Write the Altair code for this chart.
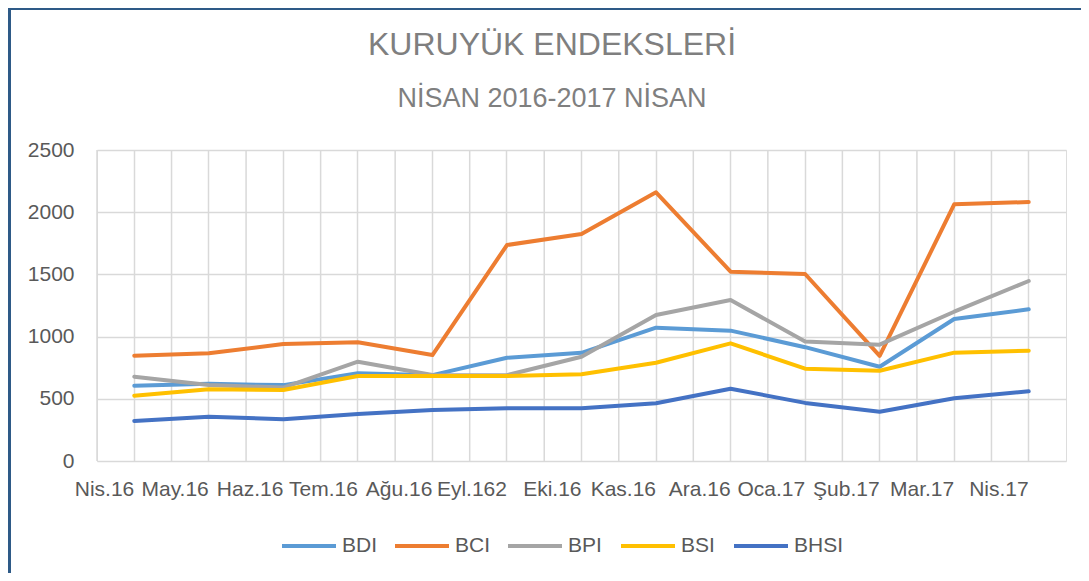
import altair as alt
import pandas as pd

months = ["Nis.16", "May.16", "Haz.16", "Tem.16", "Ağu.16", "Eyl.162", "Eki.16",
          "Kas.16", "Ara.16", "Oca.17", "Şub.17", "Mar.17", "Nis.17"]
series_names = ["BDI", "BCI", "BPI", "BSI", "BHSI"]
series_colors = ["#5B9BD5", "#ED7D31", "#A5A5A5", "#FFC000", "#4472C4"]

bdi = [605, 620, 610, 705, 690, 830, 870, 1072, 1048, 915, 758, 1141, 1219]
bci = [847, 866, 940, 954, 852, 1736, 1825, 2160, 1522, 1503, 845, 2063, 2082]
bpi = [678, 611, 590, 798, 691, 690, 838, 1174, 1294, 960, 935, 1200, 1447]
bsi = [525, 576, 571, 683, 683, 683, 697, 790, 946, 742, 726, 871, 887]
bhsi = [322, 356, 335, 378, 410, 424, 424, 464, 581, 467, 396, 504, 560]

title_text = "KURUYÜK ENDEKSLERİ"
subtitle_text = "NİSAN 2016-2017 NİSAN"

all_series = [bdi, bci, bpi, bsi, bhsi]
rows = []
for name, vals in zip(series_names, all_series):
    for m, v in zip(months, vals):
        rows.append({"month": m, "series": name, "value": v})
df = pd.DataFrame(rows)

TEXT = "#595959"
FONT = "Liberation Sans"

xscale = alt.Scale(type="band", domain=months, paddingInner=0, paddingOuter=0)

base = alt.Chart(df)

lines = base.mark_line(strokeWidth=4, strokeCap="round", strokeJoin="round").encode(
    x=alt.X("month:N", scale=xscale, sort=months, bandPosition=0.5,
            axis=alt.Axis(title=None, labelFontSize=21, labelColor=TEXT, labelFont=FONT,
                          labelPadding=28, ticks=False, domain=False, grid=True,
                          gridColor="#d9d9d9", gridWidth=1.5, bandPosition=0.5,
                          labelAngle=0)),
    y=alt.Y("value:Q", scale=alt.Scale(domain=[0, 2500], nice=False),
            axis=alt.Axis(title=None, values=[0, 500, 1000, 1500, 2000, 2500],
                          format="d",
                          labelFontSize=21, labelColor=TEXT, labelFont=FONT,
                          labelPadding=23, ticks=False, domain=False,
                          gridColor="#d9d9d9", gridWidth=1.5)),
    color=alt.Color("series:N",
                    scale=alt.Scale(domain=series_names, range=series_colors),
                    sort=series_names,
                    legend=alt.Legend(title=None, orient="none", direction="horizontal",
                                      legendX=183, legendY=367,
                                      symbolType="stroke", symbolSize=2916,
                                      symbolStrokeWidth=4, labelFontSize=21,
                                      labelColor=TEXT, labelFont=FONT,
                                      labelOffset=4, columnPadding=-5,
                                      gridAlign="all", padding=0)),
    order=alt.Order("series:N"),
)

boundaries = alt.Chart(pd.DataFrame({"month": months})).mark_rule(
    color="#d9d9d9", strokeWidth=1.5).encode(
    x=alt.X("month:N", scale=xscale, sort=months, bandPosition=0),
)

one = alt.Data(values=[{"a": 1}])

frame = alt.Chart(one).mark_rect(
    fill=None, stroke="#2E5A87", strokeWidth=3, clip=False).encode(
    x=alt.value(-87.5), x2=alt.value(1100),
    y=alt.value(-141.5), y2=alt.value(600),
)

title = alt.Chart(one).mark_text(
    font=FONT, fontSize=32, color="#7f7f7f", align="center", baseline="alphabetic"
).encode(x=alt.value(455), y=alt.value(-95), text=alt.value(title_text))

subtitle = alt.Chart(one).mark_text(
    font=FONT, fontSize=27, color="#7f7f7f", align="center", baseline="alphabetic"
).encode(x=alt.value(455), y=alt.value(-43), text=alt.value(subtitle_text))

chart = alt.layer(boundaries, lines, frame, title, subtitle).properties(
    width=969, height=311,
    padding={"left": 89, "top": 142, "right": 15, "bottom": 112},
    autosize=alt.AutoSizeParams(type="none"),
).configure_view(
    fill="#ebebeb", stroke="#d9d9d9", strokeWidth=1.5
).configure(background="white")

chart.save("out.html", embed_options={"renderer": "svg", "actions": False})
